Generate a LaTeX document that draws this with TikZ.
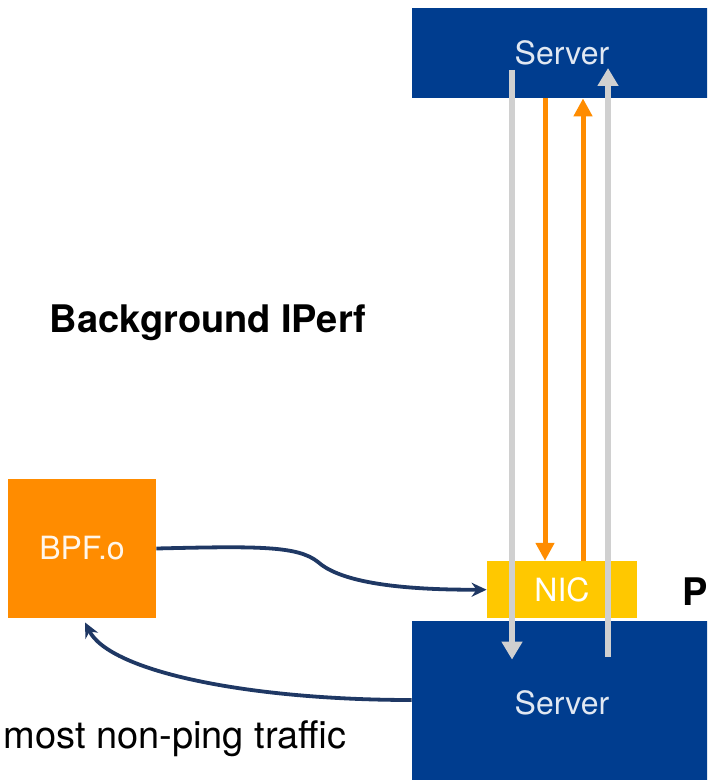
\documentclass[tikz,border=0pt]{standalone}
\usepackage{fontspec}
\setmainfont{TeX Gyre Heros}
\usetikzlibrary{positioning,arrows.meta}
\definecolor{srvblue}{RGB}{0,61,143}
\definecolor{srvtext}{RGB}{225,232,242}
\definecolor{nicyellow}{RGB}{255,200,0}
\definecolor{bpforange}{RGB}{255,140,0}
\definecolor{flowgray}{RGB}{208,208,208}
\definecolor{linknavy}{RGB}{31,56,100}
\tikzset{
	serverbox/.style={fill=srvblue,text=srvtext,minimum width=150pt,inner sep=0pt,font=\fontsize{16}{19}\selectfont},
	nicbox/.style={fill=nicyellow,text=white,minimum width=75pt,minimum height=28.5pt,inner sep=0pt,font=\fontsize{16}{19}\selectfont},
	bpfbox/.style={fill=bpforange,text=white!92!bpforange,minimum width=74pt,minimum height=69.5pt,inner sep=0pt,font=\fontsize{16}{19}\selectfont},
	grayflow/.style={draw=flowgray,line width=3pt,-{Triangle[width=10pt,length=9pt]}},
	orangeflow/.style={draw=bpforange,line width=2.5pt,-{Triangle[width=9pt,length=9pt]}},
	hook/.style={draw=linknavy,line width=1.9pt,-{Stealth[length=7.5pt,width=7pt]}},
	bigtext/.style={inner sep=0pt,font=\fontsize{19}{23}\selectfont}
}
\begin{document}
\begin{tikzpicture}[x=0.5pt,y=-0.5pt]
	\useasboundingbox (0,0) rectangle (707,780);
	\clip (0,0) rectangle (707,780);
	\node[serverbox,minimum height=45pt] (s1) at (562,53) {Server};
	\node[serverbox,minimum height=82pt] (s2) at (562,703) {Server};
	\node[nicbox,above=1pt of s2] (nic) {NIC};
	\node[bpfbox] (bpf) at (82,548.5) {BPF.o};
	\node[bigtext,font=\fontsize{19}{23}\selectfont\bfseries] (bg) at (208,323) {Background IPerf};
	\node[bigtext,font=\fontsize{19}{23}\selectfont\bfseries,anchor=base west] (p) at (682,605) {P};
	\node[bigtext,anchor=base west] (note) at (3,748) {most non-ping traffic};
	%%%%%%%%%%
	\draw[orangeflow] ([xshift=-8.5pt]s1.south) -- ([xshift=-8.5pt]nic.north);
	\draw[orangeflow] ([xshift=10.5pt]nic.north) -- ([xshift=10.5pt]s1.south);
	\draw[grayflow] ([xshift=-25pt,yshift=-8.5pt]s1.center) -- ([xshift=-25pt,yshift=-19.5pt]s2.north);
	\draw[grayflow] ([xshift=23pt,yshift=-18pt]s2.north) -- ([xshift=23pt,yshift=-7.5pt]s1.center);
	%%%%%%%%%%
	\draw[hook] (bpf.east) .. controls (260,546) and (298,546) .. (318,562)
		.. controls (336,578) and (380,590) .. (nic.west);
	\draw[hook] ([yshift=1.5pt]s2.west) .. controls (250,700) and (110,672) .. ([xshift=1.5pt,yshift=-2pt]bpf.south);
\end{tikzpicture}
\end{document}
